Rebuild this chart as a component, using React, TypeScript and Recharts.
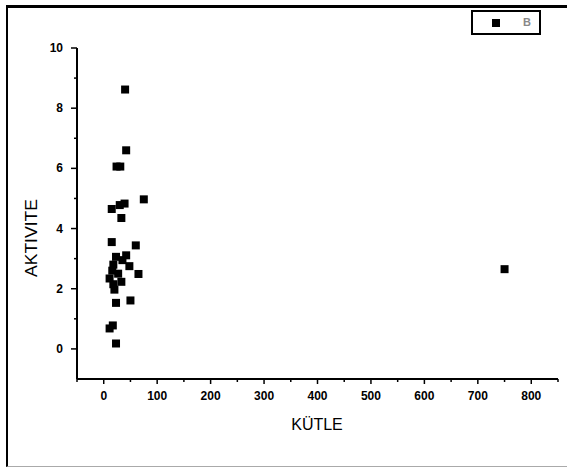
import React from 'react';
import { ScatterChart, Scatter, XAxis, YAxis, Legend } from 'recharts';

const seriesName = 'B';
const xTitle = 'KÜTLE';
const yTitle = 'AKTIVITE';

const massValues = [40, 42, 24, 31, 75, 15, 30, 39, 33, 15, 60, 23, 42, 48, 18, 65, 11, 33, 20, 23, 50, 11, 17, 23, 750, 18, 27, 35, 16];
const activityValues = [8.62, 6.6, 6.06, 6.06, 4.97, 4.65, 4.78, 4.83, 4.35, 3.55, 3.44, 3.06, 3.11, 2.75, 2.8, 2.49, 2.34, 2.23, 1.97, 1.53, 1.61, 0.68, 0.78, 0.18, 2.65, 2.15, 2.5, 2.95, 2.6];

const xTicks = [-50, 0, 50, 100, 150, 200, 250, 300, 350, 400, 450, 500, 550, 600, 650, 700, 750, 800, 850];
const yTicks = [0, 1, 2, 3, 4, 5, 6, 7, 8, 9, 10];

const data = massValues.map((m, i) => ({ x: m, y: activityValues[i] }));

const FONT = '"Liberation Sans", Arial, sans-serif';
const tickTextStyle: React.CSSProperties = { fontWeight: 700, fontSize: 12, fontFamily: FONT };

const XTick = (props: any) => {
  const { x, y, payload } = props;
  const v = payload.value;
  const major = v % 100 === 0;
  return (
    <g>
      <line x1={x} x2={x} y1={y} y2={y + (major ? 5 : 3)} stroke="#000" strokeWidth={1.5} />
      {major && (
        <text x={x} y={y + 21} textAnchor="middle" style={tickTextStyle} fill="#000">
          {v}
        </text>
      )}
    </g>
  );
};

const YTick = (props: any) => {
  const { x, y, payload } = props;
  const v = payload.value;
  const major = v % 2 === 0;
  return (
    <g>
      <line x1={x} x2={x - (major ? 6 : 3)} y1={y} y2={y} stroke="#000" strokeWidth={1.5} />
      {major && (
        <text x={x - 14} y={y + 4} textAnchor="end" style={tickTextStyle} fill="#000">
          {v}
        </text>
      )}
    </g>
  );
};

const SquareDot = (props: any) => {
  const { cx, cy } = props;
  return <rect x={cx - 4} y={cy - 4} width={8} height={8} fill="#000" />;
};

const LegendBox = () => (
  <div
    style={{
      width: 66,
      height: 21,
      border: '2px solid #000',
      position: 'relative',
      background: '#fff',
      fontFamily: FONT,
    }}
  >
    <div style={{ position: 'absolute', left: 19, top: 7, width: 8, height: 8, background: '#000' }} />
    <div style={{ position: 'absolute', left: 50, top: 3, fontSize: 11, fontWeight: 'bold', color: '#888', lineHeight: '14px' }}>
      {seriesName}
    </div>
  </div>
);

export default function App() {
  return (
    <div style={{ position: 'absolute', left: 0, top: 0, width: 567, height: 467, background: '#fff', overflow: 'hidden' }}>
      <div
        style={{
          position: 'absolute',
          left: 6,
          top: 5,
          width: 580,
          height: 458,
          borderLeft: '2px solid #000',
          borderTop: '3px solid #000',
          borderBottom: '1px solid #aaa',
        }}
      />
      <div style={{ position: 'absolute', left: 0, top: 0 }}>
        <ScatterChart width={567} height={467} margin={{ top: 48, right: 9, left: 0, bottom: 0 }}>
          <XAxis
            type="number"
            dataKey="x"
            domain={[-50, 850]}
            ticks={xTicks}
            interval={0}
            allowDataOverflow
            height={63}
            tickSize={0}
            tickMargin={0}
            tickLine={false}
            tick={<XTick />}
            axisLine={{ stroke: '#000', strokeWidth: 2 }}
            label={{
              content: (p: any) => {
                const vb = p.viewBox || { x: 77, y: 404, width: 481 };
                return (
                  <text x={317} y={vb.y + 51} textAnchor="middle" fontSize={16} fontFamily={FONT} fill="#000">
                    {xTitle}
                  </text>
                );
              },
            }}
          />
          <YAxis
            type="number"
            dataKey="y"
            domain={[-1, 10]}
            ticks={yTicks}
            interval={0}
            allowDataOverflow
            width={77}
            tickSize={0}
            tickMargin={0}
            tickLine={false}
            tick={<YTick />}
            axisLine={{ stroke: '#000', strokeWidth: 2 }}
            label={{
              content: () => (
                <text
                  x={37}
                  y={238}
                  transform="rotate(-90 37 238)"
                  textAnchor="middle"
                  fontSize={17}
                  textLength={78}
                  lengthAdjust="spacingAndGlyphs"
                  fontFamily={FONT}
                  fill="#000"
                >
                  {yTitle}
                </text>
              ),
            }}
          />
          <Legend
            content={() => <LegendBox />}
            wrapperStyle={{ position: 'absolute', left: 471, top: 10, width: 70, height: 25 }}
          />
          <Scatter name={seriesName} data={data} fill="#000" shape={<SquareDot />} isAnimationActive={false} />
        </ScatterChart>
      </div>
    </div>
  );
}
